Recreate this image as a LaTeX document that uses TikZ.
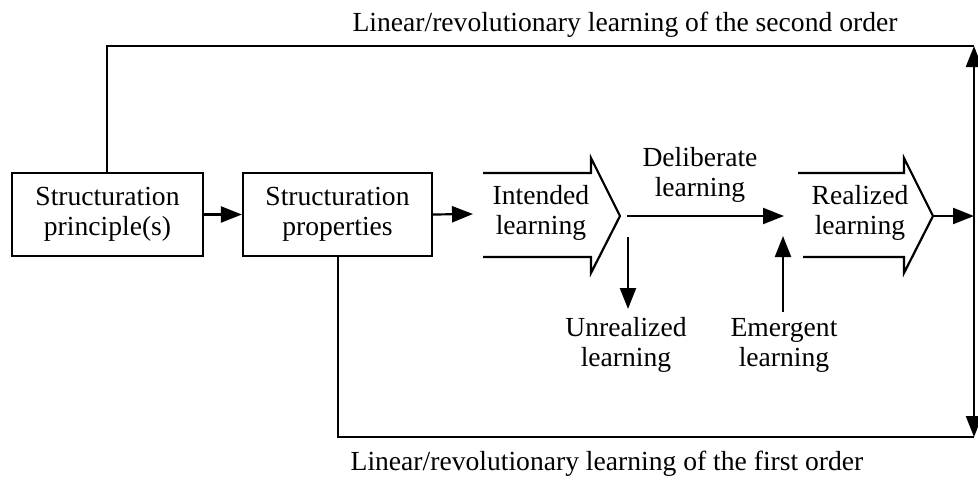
\documentclass[tikz,border=0pt]{standalone}
\usepackage{fontspec}
\setmainfont{Liberation Serif}
\usetikzlibrary{arrows.meta}
\begin{document}
\begin{tikzpicture}[x=1pt,y=-1pt,
  line width=2.2pt,
  every node/.style={font=\fontsize{27.6}{30}\selectfont, align=center, inner sep=0pt},
  box/.style={draw, rectangle, minimum width=191pt, minimum height=83pt},
  arr/.style={-{Triangle[length=21pt,width=16pt]}}]
\useasboundingbox (0,0) rectangle (978,480);
% boxes
\node[box] (b1) at (107.5,214.5) {Structuration\\principle(s)};
\node[box, minimum width=189pt] (b2) at (337.5,214.5) {Structuration\\properties};
% open arrow shapes
\node (it) at (541,213) {Intended\\learning};
\node (rl) at (860,213) {Realized\\learning};
\coordinate (itip) at (620,216);
\coordinate (rtip) at (933,216);
\draw[line join=miter] (483,173) -- (591,173) -- (591,158) -- (itip) -- (591,273) -- (591,257) -- (483,257);
\draw[line join=miter] (798,173) -- (904,173) -- (904,158) -- (rtip) -- (904,273) -- (904,257) -- (803,257);
% coordinates
\coordinate (iin) at (473,214);
\coordinate (dstart) at (627,216);
\coordinate (dend) at (784,216);
\coordinate (R) at (974,216);
\coordinate (RT) at (974,46);
\coordinate (RB) at (974,437);
\coordinate (TL) at (107,46);
\coordinate (BL) at (338,437);
\coordinate (unA) at (628,237);
\coordinate (un) at (628,309);
\coordinate (emA) at (783,312);
\coordinate (em) at (783,236);
% labels
\node (delib) at (700,175) {Deliberate\\learning};
\node (unr) at (626,345) {Unrealized\\learning};
\node (emg) at (784,345) {Emergent\\learning};
\node (top) at (625,25) {Linear/revolutionary learning of the second order};
\node (bot) at (607,464) {Linear/revolutionary learning of the first order};
% connectors
\draw[arr] (b1.east) -- (b2.west);
\draw[arr] (b2.east) -- (iin);
\draw[arr] (dstart) -- (dend);
\draw[arr] (unA) -- (un);
\draw[arr] (emA) -- (em);
\draw[arr] (rtip) -- (R);
\draw[arr] (R) -- (RT);
\draw[arr] (R) -- (RB);
\draw (RT) -- (TL) -- (b1.north -| TL);
\draw (RB) -- (BL) -- (b2.south -| BL);
\end{tikzpicture}
\end{document}
